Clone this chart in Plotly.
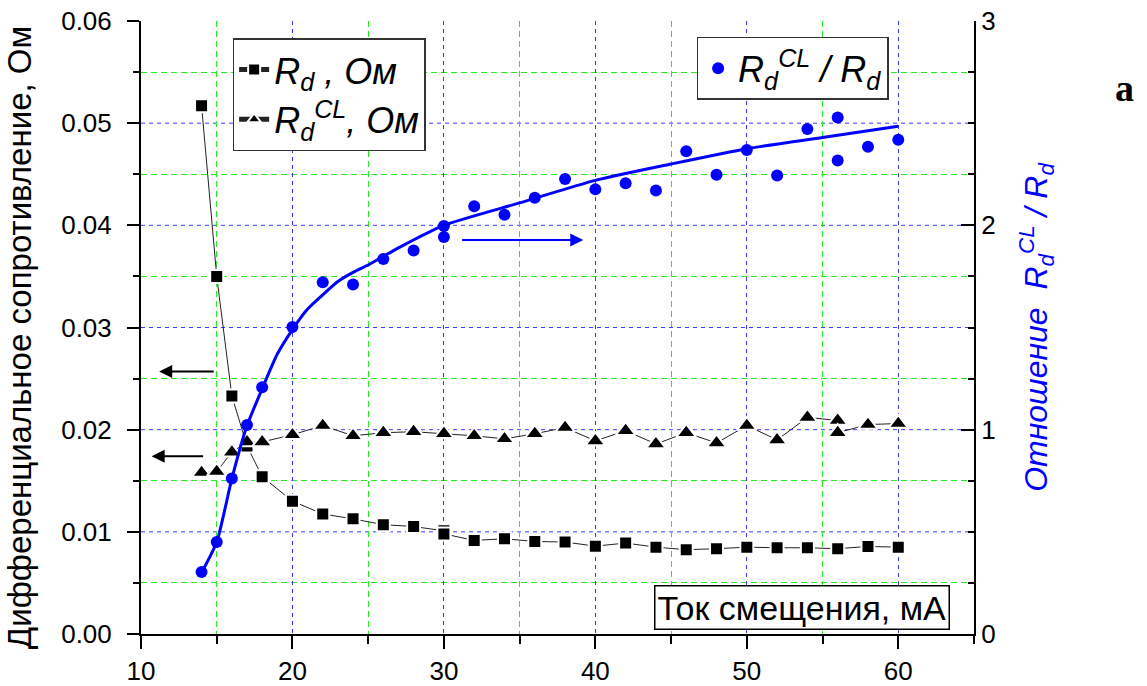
import plotly.graph_objects as go

# Bias current, mA
current = [14, 15, 16, 17, 18, 20, 22, 24, 26, 28, 30, 30, 32, 34, 36, 38, 40,
           42, 44, 46, 48, 50, 52, 54, 56, 58, 60]
# Differential resistance R_d, Ohm
r_d = [0.0517, 0.0350, 0.0233, 0.0184, 0.0154, 0.0130, 0.01175, 0.01127, 0.0107,
       0.01052, 0.0101, 0.0098, 0.00916, 0.00932, 0.00906, 0.0090, 0.0086,
       0.0089, 0.0085, 0.00825, 0.00835, 0.0085, 0.00844, 0.00844, 0.00835,
       0.00857, 0.0085]

# Differential resistance R_d^CL, Ohm
current_cl = [14, 15, 16, 17, 18, 20, 22, 24, 26, 28, 30, 32, 34, 36, 38, 40,
              42, 44, 46, 48, 50, 52, 54, 56, 56, 58, 60]
r_d_cl = [0.0158, 0.0159, 0.0178, 0.0188, 0.0188, 0.0195, 0.0204, 0.0194, 0.0197,
          0.0198, 0.0196, 0.0194, 0.0191, 0.0196, 0.0202, 0.0189, 0.0199, 0.0186,
          0.0197, 0.0187, 0.0204, 0.0190, 0.0212, 0.0209, 0.0197, 0.0205, 0.0206]

# Ratio R_d^CL / R_d
current_ratio = [14, 15, 16, 17, 18, 20, 22, 24, 26, 28, 30, 30, 32, 34, 36, 38,
                 40, 42, 44, 46, 48, 50, 52, 54, 56, 56, 58, 60]
ratio = [0.303, 0.45, 0.761, 1.023, 1.208, 1.502, 1.721, 1.711, 1.835, 1.877,
         1.997, 1.943, 2.093, 2.052, 2.135, 2.227, 2.176, 2.206, 2.171, 2.362,
         2.247, 2.369, 2.244, 2.471, 2.528, 2.317, 2.385, 2.419]

# Smooth trend of the ratio
fit_x = [14, 15, 16, 17, 18, 19, 20, 21, 22, 23, 24, 25, 27, 30, 35, 40, 45,
         50, 55, 60]
fit_y = [0.30, 0.45, 0.76, 1.02, 1.20, 1.37, 1.49, 1.59, 1.66, 1.725, 1.77,
         1.806, 1.89, 2.00, 2.11, 2.22, 2.30, 2.375, 2.43, 2.485]

# Tick positions
x_major = [10, 20, 30, 40, 50, 60]
x_minor = [15, 25, 35, 45, 55, 65]
y_major = [0.00, 0.01, 0.02, 0.03, 0.04, 0.05, 0.06]
y_major_labels = ["0.00", "0.01", "0.02", "0.03", "0.04", "0.05", "0.06"]
y_minor = [0.005, 0.015, 0.025, 0.035, 0.045, 0.055]
y2_major = [0, 1, 2, 3]
y2_minor = [0.25, 0.5, 0.75, 1.25, 1.5, 1.75, 2.25, 2.5, 2.75]

FONT = "Liberation Sans, Arial, sans-serif"
BLUE_GRID = "#3c3cff"
GREEN_GRID = "#22ee22"

fig = go.Figure()

fig.add_trace(go.Scatter(
    x=current, y=r_d, mode="lines+markers",
    name="<i>R<sub>d</sub> , Ом</i>",
    line=dict(color="#222222", width=1),
    marker=dict(symbol="square", size=13, color="black",
                line=dict(color="white", width=2)),
    legend="legend",
))
fig.add_trace(go.Scatter(
    x=current_cl, y=r_d_cl, mode="lines+markers",
    name="<i>R<sub>d</sub><sup>CL</sup>, Ом</i>",
    line=dict(color="#222222", width=1),
    marker=dict(symbol="triangle-up", size=17, color="black",
                line=dict(color="white", width=2)),
    legend="legend",
))
fig.add_trace(go.Scatter(
    x=fit_x, y=fit_y, mode="lines", yaxis="y2", showlegend=False,
    line=dict(color="#0000ff", width=3, shape="spline", smoothing=0.6),
    hoverinfo="skip",
))
fig.add_trace(go.Scatter(
    x=current_ratio, y=ratio, mode="markers", yaxis="y2",
    name="<i>R<sub>d</sub><sup>CL</sup> / R<sub>d</sub></i>",
    marker=dict(symbol="circle", size=12, color="#0000ff"),
    legend="legend2",
))

tickfont = dict(family=FONT, size=26, color="black")

fig.update_layout(
    width=1147, height=686,
    margin=dict(l=141, r=173, t=21, b=52, autoexpand=False),
    paper_bgcolor="white", plot_bgcolor="white",
    font=dict(family=FONT, color="black"),
    xaxis=dict(
        range=[10, 65], tickmode="array", tickvals=x_major, showline=True,
        linecolor="black", linewidth=2, ticks="outside", ticklen=13,
        tickwidth=2, tickcolor="black", tickfont=tickfont, zeroline=False,
        automargin=False,
        showgrid=True, gridcolor=BLUE_GRID, griddash="4px,4px", gridwidth=1,
        minor=dict(tickmode="array", tickvals=x_minor, ticks="outside",
                   ticklen=8, tickwidth=2, tickcolor="black", showgrid=True,
                   gridcolor=GREEN_GRID, griddash="6px,4px", gridwidth=1),
    ),
    # Top frame edge with inward ticks
    xaxis2=dict(
        range=[10, 65], tickmode="array", tickvals=x_major, overlaying="x",
        anchor="y", side="top", showline=True, linecolor="black", linewidth=2,
        ticks="inside", ticklen=14, tickwidth=2, tickcolor="black",
        showticklabels=False, showgrid=False, zeroline=False, automargin=False,
        minor=dict(tickmode="array", tickvals=x_minor, ticks="inside",
                   ticklen=8, tickwidth=2, tickcolor="black", showgrid=False),
    ),
    yaxis=dict(
        range=[0, 0.06], tickmode="array", tickvals=y_major,
        ticktext=y_major_labels, showline=True, linecolor="black",
        linewidth=2, ticks="outside", ticklen=12, tickwidth=2,
        tickcolor="black", tickfont=tickfont, zeroline=False,
        automargin=False, ticklabelstandoff=10, showgrid=False,
        minor=dict(tickmode="array", tickvals=y_minor, ticks="outside",
                   ticklen=6, tickwidth=2, tickcolor="black", showgrid=True,
                   gridcolor=GREEN_GRID, griddash="6px,4px", gridwidth=1),
    ),
    yaxis2=dict(
        range=[0, 3], tickmode="array", tickvals=y2_major, overlaying="y",
        side="right", showline=True, linecolor="black", linewidth=2,
        ticks="inside", ticklen=13, tickwidth=2, tickcolor="black",
        tickfont=tickfont, showgrid=False, zeroline=False, automargin=False,
        minor=dict(tickmode="array", tickvals=y2_minor, ticks="inside",
                   ticklen=6, tickwidth=2, tickcolor="black", showgrid=False),
        title=dict(text="<i>Отношение  R<sub>d</sub><sup>CL</sup> / R<sub>d</sub></i>",
                   font=dict(family=FONT, size=32, color="#0000ff"), standoff=30),
    ),
    legend=dict(
        x=0.110, y=0.972, xanchor="left", yanchor="top",
        bgcolor="white", bordercolor="#333333", borderwidth=1.5,
        font=dict(family=FONT, size=36, color="black"),
        itemsizing="constant", tracegroupgap=0,
    ),
    legend2=dict(
        x=0.667, y=0.974, xanchor="left", yanchor="top",
        bgcolor="white", bordercolor="#333333", borderwidth=1.5,
        font=dict(family=FONT, size=36, color="black"),
        itemsizing="constant",
    ),
)

# Major horizontal grid, blue dashed, beneath the data
for v in y_major[1:-1]:
    fig.add_shape(
        type="line", xref="paper", yref="y", x0=0, x1=1, y0=v, y1=v,
        layer="below", line=dict(color=BLUE_GRID, width=1, dash="4px,4px"),
    )

# Left axis caption
fig.add_annotation(
    text="Дифференциальное сопротивление, Ом", xref="paper", yref="paper",
    x=-0.145, y=0.483, xanchor="center", yanchor="middle", textangle=-90,
    showarrow=False, font=dict(family=FONT, size=33, color="black"),
)

# Axis caption placed inside the frame
fig.add_annotation(
    text="Ток смещения, мА", xref="paper", yref="paper", x=0.793, y=0.044,
    xanchor="center", yanchor="middle", showarrow=False,
    font=dict(family=FONT, size=34, color="black"),
    bgcolor="white", bordercolor="black", borderwidth=1.5, borderpad=2,
)

# Arrows pointing each series to its axis
arrows = [
    dict(head=(11.2, 0.0257), tail=(14.9, 0.0257), yref="y", color="black"),
    dict(head=(10.7, 0.0174), tail=(14.2, 0.0174), yref="y", color="black"),
    dict(head=(39.2, 1.928), tail=(31.1, 1.928), yref="y2", color="#0000ff"),
]
for a in arrows:
    fig.add_annotation(
        x=a["head"][0], y=a["head"][1], ax=a["tail"][0], ay=a["tail"][1],
        xref="x", yref=a["yref"], axref="x", ayref=a["yref"], text="",
        showarrow=True, arrowhead=2, arrowsize=1.3, arrowwidth=2,
        arrowcolor=a["color"],
    )

fig.add_annotation(
    text="<b>a</b>", xref="paper", yref="paper", x=1.181, y=0.89,
    xanchor="center", yanchor="middle", showarrow=False,
    font=dict(family="Liberation Serif, Times New Roman, serif", size=38,
              color="black"),
)

fig.write_html("out.html")
